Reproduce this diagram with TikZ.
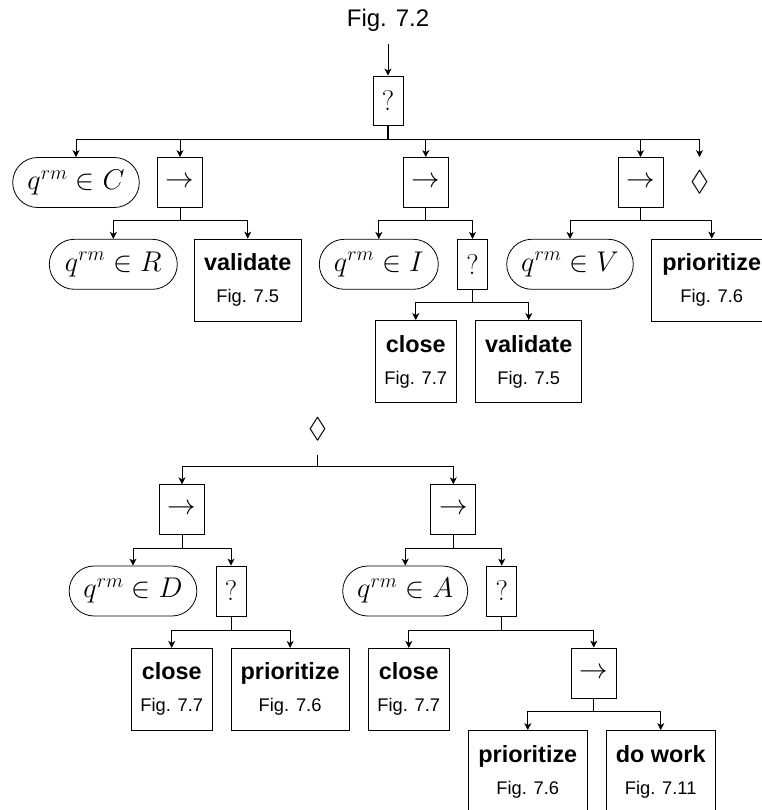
\RequirePackage{fix-cm}
\documentclass[tikz,border=0pt]{standalone}
\usepackage{amssymb}
\usepackage[no-math]{fontspec}
\setmainfont{Liberation Sans}
\usetikzlibrary{arrows.meta,calc}
\newcommand\mfont{\fontsize{28.5}{30}\selectfont}
\newcommand\afont{\fontsize{18.3}{32}\selectfont}
\newcommand\bfontx{\bfseries\fontsize{23.4}{32}\selectfont}
\newcommand\tfont{\fontsize{24}{28}\selectfont}
\tikzset{
  arr/.style={-{Stealth[length=7pt,width=7pt,inset=2pt]}},
  pill/.style={draw, rounded corners=25pt, minimum height=50pt, inner sep=0pt, font=\mfont},
  seqbox/.style={draw, minimum width=45pt, minimum height=50pt, inner sep=0pt, font=\mfont},
  selbox/.style={draw, minimum width=30pt, minimum height=50pt, inner sep=0pt, font=\mfont},
  plel/.style={minimum height=50pt, inner sep=0pt, font=\mfont},
  act/.style={draw, minimum height=82pt, inner sep=0pt, align=center, font=\afont},
}
\newcommand\edge[3]{\draw[arr] (#1.south) -- (#1.south |- #2) -| (#3.north);}
\begin{document}
\begin{tikzpicture}[x=1pt,y=-1pt,line width=0.8pt]
\useasboundingbox (0,0) rectangle (761,810);
% top tree
\node[font=\tfont, inner sep=0pt, anchor=base] (title) at (388,26.6) {Fig. 7.2};
\node[selbox, minimum height=49pt] (root) at (388,100.5) {$?$};
\node[pill, minimum width=126.6pt] (qC) at (76,182.5) {$q^{rm}\in C$};
\node[seqbox] (s1) at (180,182.5) {$\rightarrow$};
\node[seqbox] (s2) at (425.8,182.5) {$\rightarrow$};
\node[seqbox] (s3) at (640.5,182.5) {$\rightarrow$};
\node[plel] (d1) at (699.5,182.5) {$\Diamond$};
\node[pill, minimum width=128pt] (qR) at (113.3,264.3) {$q^{rm}\in R$};
\node[act, minimum width=106.7pt] (v1) at (247.7,280) {{\bfontx validate}\\Fig. 7.5};
\node[pill, minimum width=119pt] (qI) at (378.8,264.3) {$q^{rm}\in I$};
\node[selbox] (q2) at (472.5,264.3) {$?$};
\node[act, minimum width=81.7pt] (c1) at (415.8,361.5) {{\bfontx close}\\Fig. 7.7};
\node[act, minimum width=106pt] (v2) at (528.7,361.5) {{\bfontx validate}\\Fig. 7.5};
\node[pill, minimum width=126.6pt] (qV) at (570,264.3) {$q^{rm}\in V$};
\node[act, minimum width=120pt] (p1) at (711.7,280) {{\bfontx prioritize}\\Fig. 7.6};
% bottom tree
\node[plel] (d2) at (317.7,429.3) {$\Diamond$};
\node[seqbox] (s4) at (182,509.7) {$\rightarrow$};
\node[seqbox] (s5) at (453.3,509.7) {$\rightarrow$};
\node[pill, minimum width=127.7pt] (qD) at (133,591) {$q^{rm}\in D$};
\node[selbox] (q3) at (231,591) {$?$};
\node[act, minimum width=81.3pt] (c2) at (171.7,689.3) {{\bfontx close}\\Fig. 7.7};
\node[act, minimum width=118.3pt] (p2) at (290.1,689.3) {{\bfontx prioritize}\\Fig. 7.6};
\node[pill, minimum width=125pt] (qA) at (405.2,591) {$q^{rm}\in A$};
\node[selbox] (q4) at (501.7,591) {$?$};
\node[act, minimum width=81pt] (c3) at (408.8,689.3) {{\bfontx close}\\Fig. 7.7};
\node[seqbox] (s6) at (593.8,673) {$\rightarrow$};
\node[act, minimum width=119pt] (p3) at (527.8,771.5) {{\bfontx prioritize}\\Fig. 7.6};
\node[act, minimum width=109.3pt] (w1) at (660.7,771.5) {{\bfontx do work}\\Fig. 7.11};
% bus levels
\coordinate (b0) at (0,139);
\coordinate (b1) at (0,220.3);
\coordinate (b4) at (0,302.7);
\coordinate (b5) at (0,466.7);
\coordinate (b6) at (0,548.3);
\coordinate (b7) at (0,630);
\coordinate (b8) at (0,711.7);
% connectors
\draw[arr] ([yshift=-12.4pt]title.south) -- (root.north);
\draw[line width=1.8pt] (root.south) -- (root.south |- b0);
\edge{root}{b0}{qC}
\edge{root}{b0}{s1}
\edge{root}{b0}{s2}
\edge{root}{b0}{s3}
\edge{root}{b0}{d1}
\edge{s1}{b1}{qR}
\edge{s1}{b1}{v1}
\edge{s2}{b1}{qI}
\edge{s2}{b1}{q2}
\edge{q2}{b4}{c1}
\edge{q2}{b4}{v2}
\edge{s3}{b1}{qV}
\edge{s3}{b1}{p1}
\edge{d2}{b5}{s4}
\edge{d2}{b5}{s5}
\edge{s4}{b6}{qD}
\edge{s4}{b6}{q3}
\edge{q3}{b7}{c2}
\edge{q3}{b7}{p2}
\edge{s5}{b6}{qA}
\edge{s5}{b6}{q4}
\edge{q4}{b7}{c3}
\edge{q4}{b7}{s6}
\edge{s6}{b8}{p3}
\edge{s6}{b8}{w1}
\end{tikzpicture}
\end{document}
